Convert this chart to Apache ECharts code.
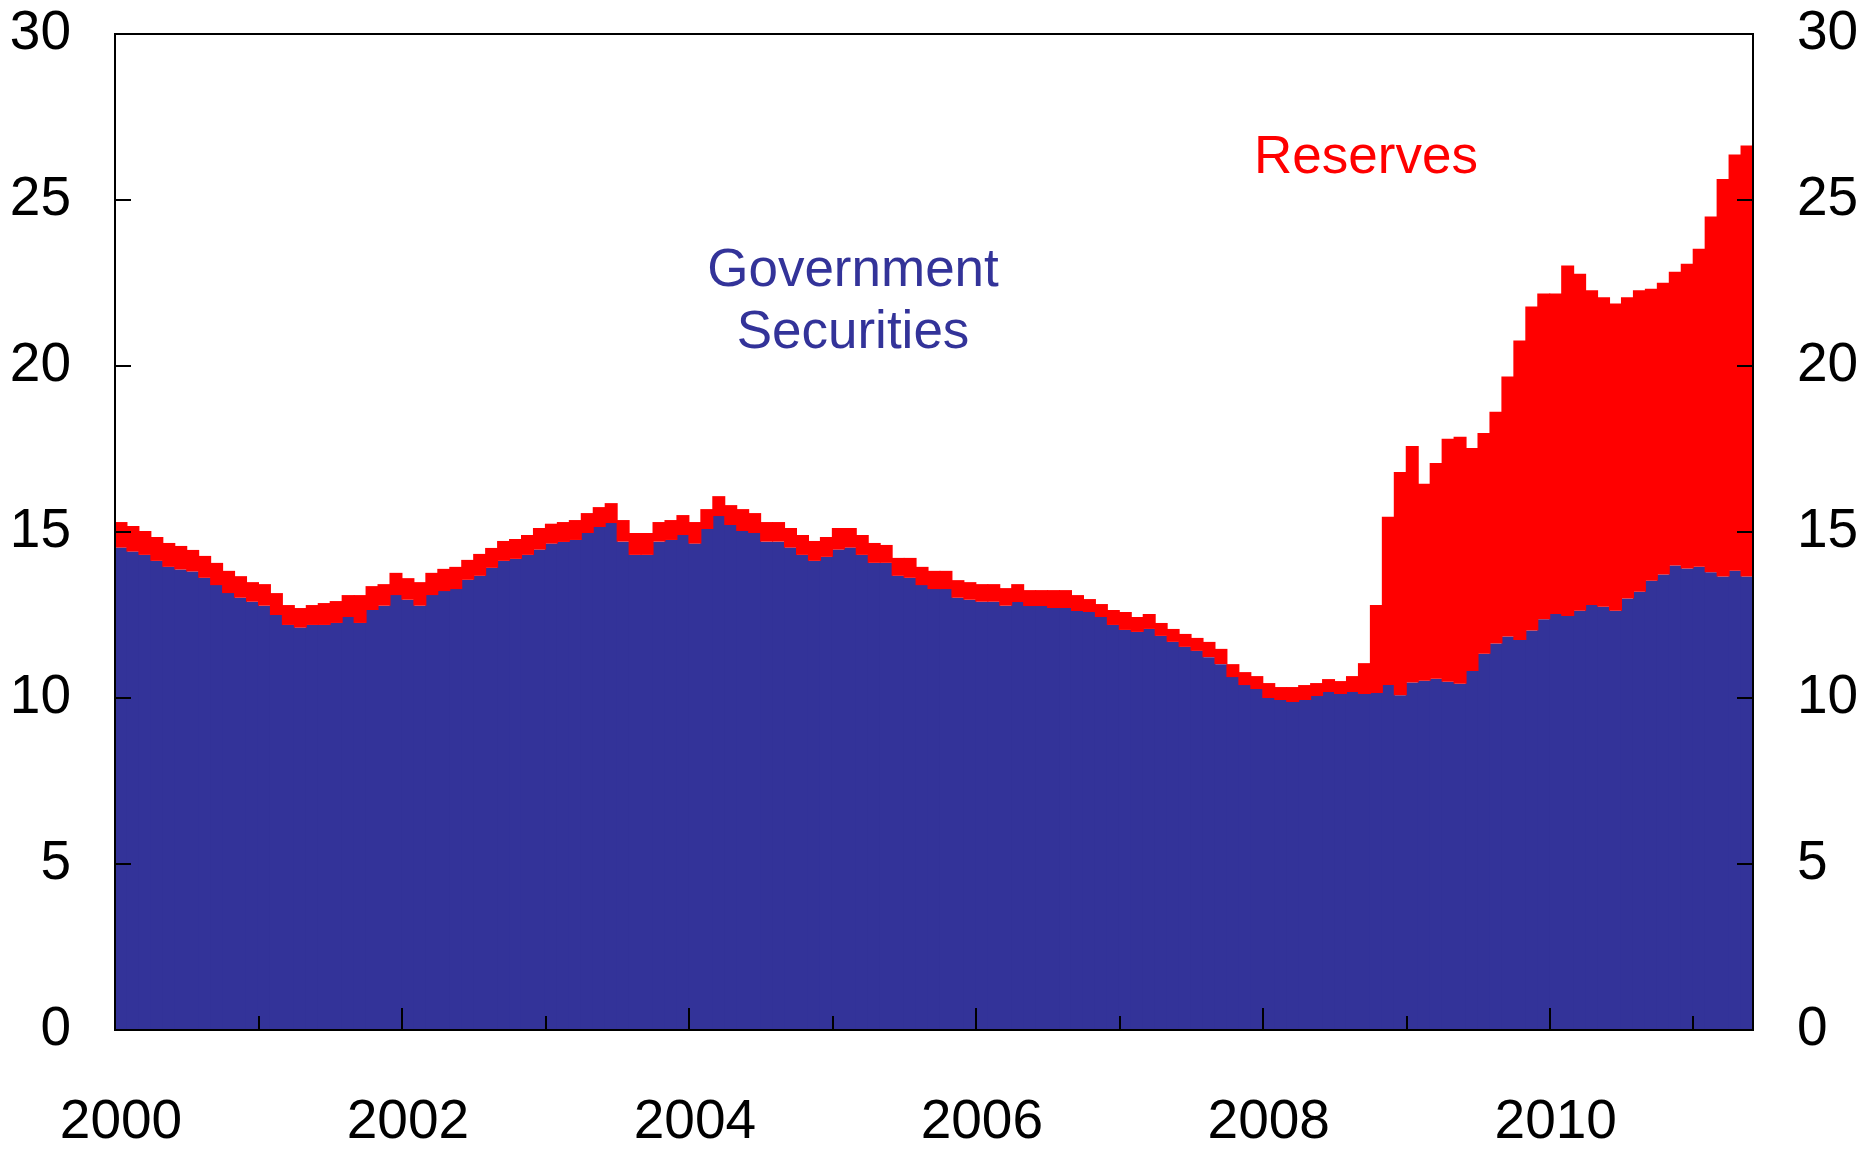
<!DOCTYPE html>
<html>
<head>
<meta charset="utf-8">
<script src="https://cdn.jsdelivr.net/npm/echarts@6/dist/echarts.min.js"></script>
<style>
  html, body { margin: 0; padding: 0; background: #fff; }
  #chart { width: 1865px; height: 1153px; }
</style>
</head>
<body>
<div id="chart"></div>
<script>
// monthly, Jan 2000 .. May 2011
const months = [];
for (let i = 0; i < 137; i++) {
  const y = 2000 + Math.floor(i / 12), m = i % 12 + 1;
  months.push(y + "-" + (m < 10 ? "0" + m : m));
}

// government securities (blue, bottom of stack)
const govSecurities = [
  14.53, 14.41, 14.31, 14.13, 13.95, 13.87, 13.81, 13.62, 13.40, 13.16, 13.02, 12.90,
  12.78, 12.50, 12.20, 12.12, 12.20, 12.20, 12.26, 12.44, 12.26, 12.65, 12.78, 13.10,
  12.96, 12.78, 13.10, 13.22, 13.28, 13.56, 13.68, 13.92, 14.13, 14.19, 14.31, 14.47,
  14.65, 14.70, 14.76, 14.97, 15.15, 15.27, 14.71, 14.31, 14.31, 14.71, 14.76, 14.91,
  14.65, 15.09, 15.48, 15.21, 15.03, 14.97, 14.71, 14.71, 14.53, 14.31, 14.13, 14.25,
  14.47, 14.53, 14.31, 14.07, 14.07, 13.68, 13.62, 13.40, 13.28, 13.28, 13.02, 12.96,
  12.90, 12.90, 12.78, 12.89, 12.77, 12.77, 12.71, 12.71, 12.62, 12.59, 12.44, 12.20,
  12.05, 11.99, 12.08, 11.87, 11.69, 11.54, 11.42, 11.23, 11.02, 10.63, 10.39, 10.27,
  10.00, 9.94, 9.88, 9.94, 10.06, 10.18, 10.12, 10.18, 10.12, 10.15, 10.39, 10.08,
  10.47, 10.52, 10.58, 10.49, 10.43, 10.81, 11.33, 11.64, 11.85, 11.75, 12.03, 12.37,
  12.53, 12.47, 12.63, 12.80, 12.75, 12.63, 13.00, 13.20, 13.53, 13.72, 13.99, 13.90,
  13.95, 13.79, 13.66, 13.83, 13.66
];

// top of the red bars (government securities + reserves)
const totalLiabilities = [
  15.30, 15.18, 15.03, 14.85, 14.67, 14.58, 14.46, 14.28, 14.07, 13.83, 13.67, 13.49,
  13.43, 13.16, 12.80, 12.71, 12.80, 12.86, 12.92, 13.10, 13.10, 13.37, 13.43, 13.77,
  13.61, 13.49, 13.77, 13.89, 13.95, 14.16, 14.34, 14.52, 14.73, 14.79, 14.91, 15.12,
  15.25, 15.30, 15.36, 15.57, 15.75, 15.87, 15.36, 14.97, 14.97, 15.30, 15.36, 15.51,
  15.30, 15.69, 16.08, 15.81, 15.69, 15.57, 15.30, 15.30, 15.12, 14.91, 14.73, 14.85,
  15.12, 15.12, 14.91, 14.67, 14.61, 14.22, 14.22, 13.95, 13.83, 13.83, 13.55, 13.49,
  13.43, 13.43, 13.31, 13.43, 13.25, 13.25, 13.25, 13.25, 13.10, 12.98, 12.83, 12.65,
  12.59, 12.44, 12.53, 12.26, 12.08, 11.93, 11.81, 11.69, 11.48, 11.02, 10.78, 10.66,
  10.45, 10.33, 10.33, 10.39, 10.45, 10.57, 10.51, 10.66, 11.05, 12.80, 15.46, 16.81,
  17.59, 16.45, 17.08, 17.81, 17.87, 17.53, 17.98, 18.62, 19.68, 20.77, 21.79, 22.18,
  22.18, 23.03, 22.78, 22.28, 22.07, 21.88, 22.07, 22.28, 22.33, 22.51, 22.84, 23.08,
  23.53, 24.50, 25.63, 26.37, 26.64
];

const reserves = totalLiabilities.map((t, i) => +(t - govSecurities[i]).toFixed(2));

const font = "'Liberation Sans', Arial, sans-serif";
const navy = "#333399";
const red = "#ff0000";

const lineStyle = { color: "#000", width: 2 };

function valueAxis(position) {
  return {
    type: "value",
    position: position,
    min: 0,
    max: 30,
    interval: 5,
    z: 10,
    axisLine: { show: true, lineStyle: lineStyle },
    axisTick: { show: true, inside: true, length: 16, lineStyle: lineStyle },
    axisLabel: { margin: 44, fontSize: 55, color: "#000", fontFamily: font },
    splitLine: { show: false }
  };
}

const chart = echarts.init(document.getElementById("chart"));
chart.setOption({
  animation: false,
  backgroundColor: "#fff",
  grid: {
    left: 115, right: 112, top: 34, bottom: 123,
    show: true, borderColor: "#000", borderWidth: 2, backgroundColor: "transparent"
  },
  xAxis: [
    {
      type: "category",
      data: months,
      position: "bottom",
      z: 10,
      axisLine: { show: true, lineStyle: lineStyle },
      axisTick: { show: true, inside: true, length: 22, lineStyle: lineStyle,
        interval: (i) => i % 24 === 0 && i > 0 },
      axisLabel: {
        interval: (i) => i % 24 === 0,
        formatter: (v) => v.slice(0, 4),
        margin: 65, fontSize: 55, color: "#000", fontFamily: font
      },
      splitLine: { show: false }
    },
    {
      type: "category",
      data: months,
      position: "bottom",
      z: 10,
      axisLine: { show: false },
      axisTick: { show: true, inside: true, length: 14, lineStyle: lineStyle,
        interval: (i) => i % 24 === 12 },
      axisLabel: { show: false },
      splitLine: { show: false }
    }
  ],
  yAxis: [valueAxis("left"), valueAxis("right")],
  series: [
    {
      name: "Government Securities",
      type: "bar",
      stack: "total",
      data: govSecurities,
      barWidth: 13,
      itemStyle: { color: navy },
      silent: true
    },
    {
      name: "Reserves",
      type: "bar",
      stack: "total",
      data: reserves,
      barWidth: 13,
      itemStyle: { color: red },
      silent: true
    }
  ],
  graphic: [
    { type: "text", x: 853, y: 271, z: 20,
      style: { text: "Government", fill: navy, fontSize: 53, fontFamily: font, align: "center", verticalAlign: "middle" } },
    { type: "text", x: 853, y: 333, z: 20,
      style: { text: "Securities", fill: navy, fontSize: 53, fontFamily: font, align: "center", verticalAlign: "middle" } },
    { type: "text", x: 1366, y: 158, z: 20,
      style: { text: "Reserves", fill: red, fontSize: 53, fontFamily: font, align: "center", verticalAlign: "middle" } }
  ]
});
</script>
</body>
</html>
